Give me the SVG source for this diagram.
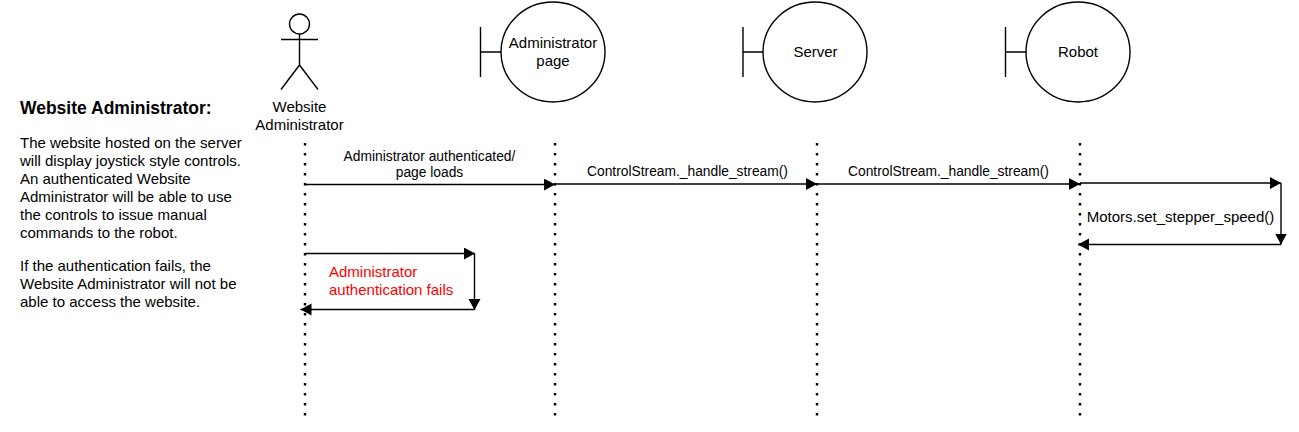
<svg xmlns="http://www.w3.org/2000/svg" width="1299" height="432" viewBox="0 0 1299 432">
<style>
text{font-family:"Liberation Sans",Arial,sans-serif;font-size:15px;fill:#000}
.m{text-anchor:middle}
.sm{font-size:13.8px}
.red{fill:#f00}
.h{font-weight:700;font-size:17.5px}
.s{fill:none;stroke:#000;stroke-width:1.4}
.life{fill:none;stroke:#000;stroke-width:2.4;stroke-dasharray:2.4 7.6}
.c{fill:none;stroke:#000;stroke-width:1.4;marker-end:url(#a)}
</style>
<defs><marker id="a" markerUnits="userSpaceOnUse" markerWidth="14" markerHeight="14" refX="11" refY="6" orient="auto"><path d="M0 0L11 6L0 12Z" fill="#000"/></marker></defs>
<rect width="1299" height="432" fill="#fff"/>
<g id="note">
<text class="h" x="20" y="114">Website Administrator:</text>
<text x="20" y="148">The website hosted on the server</text>
<text x="20" y="166">will display joystick style controls.</text>
<text x="20" y="184">An authenticated Website</text>
<text x="20" y="202">Administrator will be able to use</text>
<text x="20" y="220">the controls to issue manual</text>
<text x="20" y="238">commands to the robot.</text>
<text x="20" y="271">If the authentication fails, the</text>
<text x="20" y="289">Website Administrator will not be</text>
<text x="20" y="307">able to access the website.</text>
</g>
<g id="actor">
<circle class="s" cx="299.500" cy="24" r="10"/>
<path class="s" d="M299.500 34V65M281 39.500H318M299.500 65L281 89.500M299.500 65L318 89.500"/>
<text class="m" x="299.500" y="112">Website</text>
<text class="m" x="299.500" y="130">Administrator</text>
</g>
<g id="admin-page">
<path class="s" d="M480.500 27V77M480.500 52H501"/>
<ellipse class="s" cx="553" cy="52" rx="52" ry="50"/>
<text class="m" x="553" y="48">Administrator</text>
<text class="m" x="553" y="66">page</text>
</g>
<g id="server">
<path class="s" d="M743 27V77M743 52H763"/>
<ellipse class="s" cx="815" cy="52" rx="52" ry="50"/>
<text class="m" x="815.500" y="57">Server</text>
</g>
<g id="robot">
<path class="s" d="M1005.500 27V77M1005.500 52H1026"/>
<ellipse class="s" cx="1078" cy="52" rx="52" ry="50"/>
<text class="m" x="1078" y="57">Robot</text>
</g>
<g id="lifelines">
<path class="life" d="M305 143V416"/>
<path class="life" d="M555 143V416"/>
<path class="life" d="M817 143V416"/>
<path class="life" d="M1080 143V416"/>
</g>
<g id="connectors">
<path class="c" d="M305 184.500H555"/>
<path class="c" d="M555 184H817"/>
<path class="c" d="M817 184H1080"/>
<path class="c" d="M1080 183H1281"/>
<path class="c" d="M1281 183V244.500"/>
<path class="c" d="M1281 244.500H1078"/>
<path class="c" d="M305 253.500H475"/>
<path class="c" d="M474.500 253.500V310"/>
<path class="c" d="M474.500 309.500H300.500"/>
</g>
<g id="labels">
<text class="m sm" x="429.500" y="161">Administrator authenticated/</text>
<text class="m sm" x="429.500" y="177">page loads</text>
<text class="m sm" x="687.500" y="176">ControlStream._handle_stream()</text>
<text class="m sm" x="948.500" y="176">ControlStream._handle_stream()</text>
<text class="m" x="1180.500" y="222">Motors.set_stepper_speed()</text>
<text class="red" x="329" y="277">Administrator</text>
<text class="red" x="329" y="295">authentication fails</text>
</g>
</svg>
